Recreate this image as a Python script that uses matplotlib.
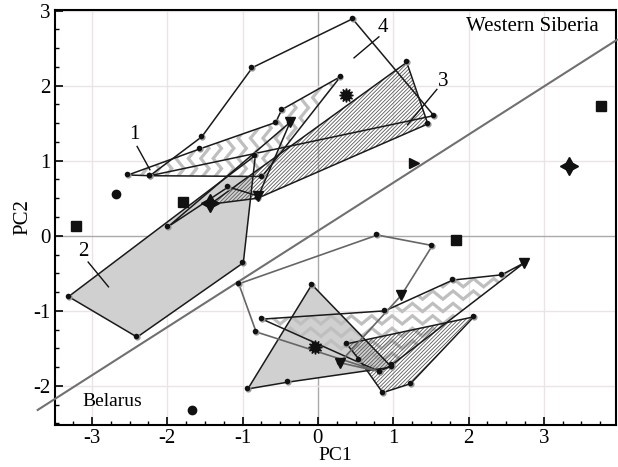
import matplotlib
matplotlib.use("Agg")
import matplotlib.pyplot as plt
import numpy as np
from matplotlib.patches import Polygon

plt.rcParams['font.family'] = ['Liberation Serif', 'DejaVu Serif']
plt.rcParams['axes.unicode_minus'] = False
plt.rcParams['hatch.linewidth'] = 0.6

# polygons (PC1, PC2)
poly1 = [(-2.52, 0.81), (-1.56, 1.16), (-0.56, 1.51), (-0.48, 1.68), (0.30, 2.12), (-0.74, 0.79), (-2.23, 0.80)]
poly2 = [(-3.31, -0.81), (-2.40, -1.35), (-0.99, -0.36), (-0.83, 1.07)]
poly3 = [(1.18, 2.31), (1.46, 1.49), (-0.80, 0.50), (-1.43, 0.42)]
poly4 = [(-2.23, 0.80), (-1.54, 1.32), (-0.87, 2.24), (0.46, 2.89), (1.54, 1.60)]
poly5 = [(-1.99, 0.12), (-0.37, 1.51), (-0.79, 0.53), (-1.19, 0.65)]

low_line = [(-1.05, -0.64), (0.79, 0.01), (1.52, -0.13), (1.11, -0.79), (0.29, -1.69), (0.82, -1.81), (-0.82, -1.28)]
low_zig = [(-0.74, -1.11), (0.89, -1.00), (1.79, -0.59), (2.44, -0.52), (2.74, -0.36), (0.98, -1.72), (0.82, -1.81)]
low_tri = [(-0.08, -0.65), (-0.93, -2.04), (-0.40, -1.95), (0.98, -1.75)]
low_hatch = [(0.38, -1.44), (2.07, -1.08), (1.23, -1.97), (0.86, -2.09), (0.55, -1.65)]

# single points
circle_pts = [(-2.68, 0.55), (-1.67, -2.32)]
square_pts = [(-3.21, 0.13), (-1.79, 0.45), (3.76, 1.73), (1.83, -0.05)]
star4_pts = [(-1.43, 0.43), (3.34, 0.93)]
aster_pts = [(0.38, 1.88), (-0.04, -1.48)]
tri_down = [(-0.79, 0.53), (-0.37, 1.51), (1.11, -0.79), (0.29, -1.69), (2.74, -0.36)]
tri_right = [(1.28, 0.97)]

# separating line ends
sep_x = [-3.72, 3.97]
sep_y = [-2.32, 2.61]

fig = plt.figure(figsize=(6.18, 4.67), dpi=100)
ax = fig.add_axes([0.089, 0.09, 0.908, 0.889])
ax.set_xlim(-3.49, 3.96)
ax.set_ylim(-2.52, 3.01)

for v in range(-3, 4):
    ax.axvline(v, color='#aaaaaa' if v == 0 else '#ebe4e4', lw=1.0, zorder=0)
for v in range(-2, 4):
    ax.axhline(v, color='#aaaaaa' if v == 0 else '#ebe4e4', lw=1.0, zorder=0)


def zigzag(patch, verts, vertical, step=0.165, wave=0.27, amp=0.055):
    pts = np.array(verts)
    x0, y0 = pts.min(axis=0) - 0.3
    x1, y1 = pts.max(axis=0) + 0.3
    if vertical:
        t = np.arange(y0, y1, wave / 2)
        s = amp * ((np.arange(len(t)) % 2) * 2 - 1)
        for c in np.arange(x0, x1, step):
            ln, = ax.plot(c + s, t, color='#bfbfbf', lw=2.3, zorder=2, solid_joinstyle='miter')
            ln.set_clip_path(patch)
    else:
        t = np.arange(x0, x1, wave / 2)
        s = amp * ((np.arange(len(t)) % 2) * 2 - 1)
        for c in np.arange(y0, y1, step):
            ln, = ax.plot(t, c + s, color='#bfbfbf', lw=2.3, zorder=2, solid_joinstyle='miter')
            ln.set_clip_path(patch)


def outline(verts, color='#1a1a1a', lw=1.1, z=4):
    ax.add_patch(Polygon(verts, closed=True, fill=False, edgecolor=color, lw=lw, zorder=z))
    xs, ys = zip(*verts)
    ax.plot(xs, ys, 'o', color='#9a9a9a', ms=4.5, zorder=z + 0.5, markeredgewidth=0)
    ax.plot(np.array(xs) - 0.012, np.array(ys) + 0.012, 'o', color='#111111', ms=4, zorder=z + 0.6, markeredgewidth=0)


# solid grey fills
for verts in (poly2, low_tri):
    ax.add_patch(Polygon(verts, closed=True, facecolor='#d0d0d0', edgecolor='none', zorder=1))

# zigzag fills
p = Polygon(poly1, closed=True, facecolor='white', edgecolor='none', zorder=1.5)
ax.add_patch(p)
zigzag(p, poly1, True)
p = Polygon(low_zig, closed=True, facecolor='none', edgecolor='none', zorder=1.5)
ax.add_patch(p)
zigzag(p, low_zig, False)

# hatched fills
for verts in (poly3, low_hatch):
    ax.add_patch(Polygon(verts, closed=True, facecolor='none', edgecolor='#5a5a5a', lw=0,
                         hatch='/' * 9, zorder=3))

for verts in (poly1, poly2, poly3, poly4, poly5, low_zig, low_tri, low_hatch):
    outline(verts)
outline(low_line, color='#666666', lw=1.2)

ax.plot(sep_x, sep_y, color='#707070', lw=1.5, clip_on=False, zorder=3)

mk = dict(color='#111111', linestyle='none', zorder=6)
ax.plot(*zip(*circle_pts), marker='o', ms=6, **mk)
ax.plot(*zip(*square_pts), marker='s', ms=7.5, **mk)
ax.plot(*zip(*star4_pts), marker=(4, 1, 0), ms=13, **mk)
ax.plot(*zip(*aster_pts), marker=(12, 1, 0), ms=10, **mk)
ax.plot(*zip(*tri_down), marker='v', ms=7.5, **mk)
ax.plot(*zip(*tri_right), marker='>', ms=7.5, **mk)

# group labels with leader lines
labels = [('1', (-2.44, 1.35), (-2.40, 1.19), (-2.23, 0.88)),
          ('2', (-3.11, -0.21), (-3.05, -0.35), (-2.78, -0.68)),
          ('3', (1.67, 2.05), (1.58, 1.95), (1.19, 1.48)),
          ('4', (0.86, 2.77), (0.81, 2.65), (0.48, 2.37))]
for txt, pos, a, b in labels:
    ax.text(pos[0], pos[1], txt, fontsize=15, ha='center', va='center', zorder=7)
    ax.plot([a[0], b[0]], [a[1], b[1]], color='#111111', lw=1.0, zorder=7)

ax.text(1.97, 2.79, 'Western Siberia', fontsize=15, ha='left', va='center')
ax.text(-3.13, -2.21, 'Belarus', fontsize=14, ha='left', va='center')

ax.set_xticks(range(-3, 4))
ax.set_yticks(range(-2, 4))
ax.set_xticks(np.arange(-3.25, 4, 0.25), minor=True)
ax.set_yticks(np.arange(-2.5, 3.01, 0.25), minor=True)
ax.tick_params(which='both', direction='in', labelsize=15, top=False, right=False)
ax.tick_params(which='major', length=6, width=1.2, pad=3)
ax.tick_params(which='minor', length=3, width=1.0)
for s in ax.spines.values():
    s.set_linewidth(1.5)
ax.set_xlabel('PC1', fontsize=14, labelpad=-1)
ax.set_ylabel('PC2', fontsize=15, labelpad=1)

fig.savefig('out.png', dpi=100)
